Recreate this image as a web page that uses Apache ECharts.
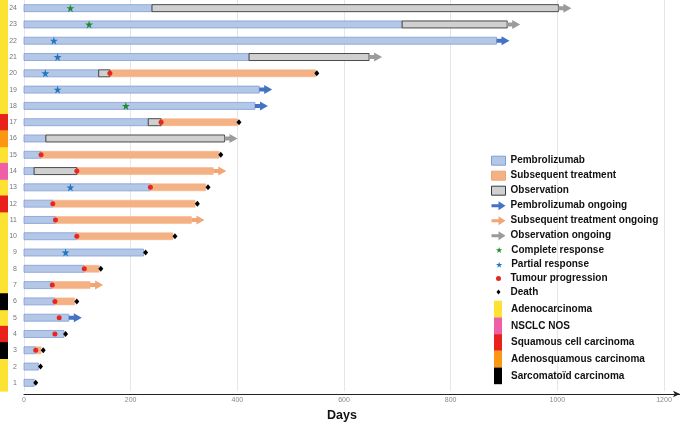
<!DOCTYPE html>
<html><head><meta charset="utf-8">
<script src="https://cdn.jsdelivr.net/npm/echarts@6/dist/echarts.min.js"></script>
<style>html,body{margin:0;padding:0;background:#fff}#c{width:680px;height:422px}</style>
</head><body><div id="c"></div>
<script>
const patients = ['1','2','3','4','5','6','7','8','9','10','11','12','13','14','15','16','17','18','19','20','21','22','23','24'];
const xTicks = [0, 200, 400, 600, 800, 1000, 1200];
// days; index 0 = patient 1
const pembroEnd = [19,27,22,75,84,58,53,113,224,99,59,54,237,19,32,41,233,433,441,140,422,886,709,240];
const obsEnd    = [null,null,null,null,null,null,null,null,null,null,null,null,null,99,null,376,257,null,null,161,647,null,906,1002];
const subsEnd   = [null,null,32,null,null,95,124,141,null,279,314,321,341,355,366,null,400,null,null,547,null,null,null,null];
const ongoingPembro = [5,18,19,22];
const ongoingSubs = [7,11,14];
const ongoingObs = [16,21,23,24];
// [patient, day]
const completeResponse = [[24,87],[23,122],[18,191]];
const partialResponse = [[22,56],[21,63],[20,40],[19,63],[13,87],[9,78]];
const progression = [[3,22],[4,58],[5,66],[6,58],[7,53],[8,113],[10,99],[11,59],[12,54],[13,237],[14,99],[15,32],[17,257],[20,161]];
const death = [[1,22],[2,31],[3,36],[4,78],[6,99],[8,144],[9,228],[10,283],[12,325],[13,345],[15,369],[17,403],[20,549]];
const histology = ['Adenocarcinoma','Adenocarcinoma','Sarcomatoïd carcinoma','Squamous cell carcinoma','Adenocarcinoma','Sarcomatoïd carcinoma','Adenocarcinoma','Adenocarcinoma','Adenocarcinoma','Adenocarcinoma','Adenocarcinoma','Squamous cell carcinoma','Adenocarcinoma','NSCLC NOS','Adenocarcinoma','Adenosquamous carcinoma','Squamous cell carcinoma','Adenocarcinoma','Adenocarcinoma','Adenocarcinoma','Adenocarcinoma','Adenocarcinoma','Adenocarcinoma','Adenocarcinoma'];
const histTypes = ['Adenocarcinoma','NSCLC NOS','Squamous cell carcinoma','Adenosquamous carcinoma','Sarcomatoïd carcinoma'];
const histColors = ['#fce232','#ee5fa8','#e8221b','#fc9712','#000000'];

const C = {
  pembro:'#b4c7e7', pembroB:'#7f9ed6',
  subs:'#f4b183', subsB:'#eea574',
  obs:'#d0d0d0', obsB:'#3a3a3a',
  arP:'#4472c4', arS:'#f2a575', arO:'#9b9b9b',
  cr:'#1f8a30', pr:'#1f78c1', prog:'#e8261e', death:'#000'
};
const STAR = 'path://M50,0L61.2,34.5L97.6,34.5L68.2,55.9L79.4,90.5L50,69.1L20.6,90.5L31.8,55.9L2.4,34.5L38.8,34.5Z';
const ARROW = 'path://M0,3L7,3L7,0L14,4.5L7,9L7,6L0,6Z';
const DIAM = 'path://M2,0L4,2.5L2,5L0,2.5Z';

const pembroData = pembroEnd.map((e,i)=>[0,e,i]);
const obsData = obsEnd.map((e,i)=> e==null?null:[pembroEnd[i],e,i]).filter(Boolean);
const subsData = subsEnd.map((e,i)=> e==null?null:[obsEnd[i]!=null?obsEnd[i]:pembroEnd[i],e,i]).filter(Boolean);
const arPData = ongoingPembro.map(p=>[pembroEnd[p-1],p-1]);
const arSData = ongoingSubs.map(p=>[subsEnd[p-1],p-1]);
const arOData = ongoingObs.map(p=>[obsEnd[p-1],p-1]);
const pt = arr => arr.map(([p,d])=>[d,p-1]);

function segRender(fill, stroke, lw){
  return function(params, api){
    const s = api.coord([api.value(0), api.value(2)]);
    const e = api.coord([api.value(1), api.value(2)]);
    const h = 7;
    return {type:'rect', shape:{x:s[0], y:s[1]-h/2, width:e[0]-s[0], height:h}, style:{fill:fill, stroke:stroke, lineWidth:lw}};
  };
}
function arrowRender(color){
  return function(params, api){
    const p = api.coord([api.value(0), api.value(1)]);
    const x = p[0], y = p[1];
    return {type:'polygon', shape:{points:[[x,y-2],[x+5,y-2],[x+5,y-4.5],[x+13,y],[x+5,y+4.5],[x+5,y+2],[x,y+2]]}, style:{fill:color}};
  };
}
function histRender(color){
  return function(params, api){
    const c = api.coord([0, api.value(1)]);
    const h = api.size([0,1])[1];
    return {type:'rect', shape:{x:0, y:c[1]-h/2, width:8, height:h+0.6}, style:{fill:color}};
  };
}

const series = [
  {name:'Pembrolizumab', type:'custom', renderItem:segRender(C.pembro,C.pembroB,0.8), encode:{x:[0,1],y:2}, data:pembroData, itemStyle:{color:C.pembro}, z:2},
  {name:'Observation', type:'custom', renderItem:segRender(C.obs,C.obsB,0.9), encode:{x:[0,1],y:2}, data:obsData, itemStyle:{color:C.obs}, z:3},
  {name:'Subsequent treatment', type:'custom', renderItem:segRender(C.subs,C.subs,0.5), encode:{x:[0,1],y:2}, data:subsData, itemStyle:{color:C.subs}, z:2},
  {name:'Pembrolizumab ongoing', type:'custom', renderItem:arrowRender(C.arP), encode:{x:0,y:1}, data:arPData, itemStyle:{color:C.arP}, z:3},
  {name:'Subsequent treatment ongoing', type:'custom', renderItem:arrowRender(C.arS), encode:{x:0,y:1}, data:arSData, itemStyle:{color:C.arS}, z:3},
  {name:'Observation ongoing', type:'custom', renderItem:arrowRender(C.arO), encode:{x:0,y:1}, data:arOData, itemStyle:{color:C.arO}, z:3},
  {name:'Complete response', type:'scatter', symbol:STAR, symbolSize:8, data:pt(completeResponse), itemStyle:{color:C.cr, opacity:1}, z:6},
  {name:'Partial response', type:'scatter', symbol:STAR, symbolSize:8, data:pt(partialResponse), itemStyle:{color:C.pr, opacity:1}, z:6},
  {name:'Tumour progression', type:'scatter', symbol:'circle', symbolSize:5, data:pt(progression), itemStyle:{color:C.prog, opacity:1}, z:6},
  {name:'Death', type:'scatter', symbol:'diamond', symbolSize:[5,6], data:pt(death), itemStyle:{color:C.death, opacity:1}, z:6}
];
histTypes.forEach((t,k)=>{
  const d = [];
  histology.forEach((h,i)=>{ if(h===t) d.push([0,i]); });
  series.push({name:t, type:'custom', renderItem:histRender(histColors[k]), encode:{x:0,y:1}, data:d, itemStyle:{color:histColors[k]}, z:1});
});

const lt = {fontSize:10, fontWeight:'bold', color:'#111', fontFamily:'Liberation Sans, Arial, sans-serif', lineHeight:12};
const option = {
  animation:false,
  backgroundColor:'#fff',
  grid:{left:24, right:0, top:0, height:391, outerBoundsMode:'none', containLabel:false},
  xAxis:{type:'value', min:0, max:1230, interval:200, offset:3,
    axisLine:{show:true, lineStyle:{color:'#222', width:1.2}, symbol:['none','arrow'], symbolSize:[5,7]},
    axisTick:{show:false},
    axisLabel:{fontSize:7, color:'#888', margin:3, showMaxLabel:false, fontFamily:'Liberation Sans, Arial, sans-serif',
      formatter:v=> xTicks.indexOf(v)>=0 ? String(v) : ''},
    splitLine:{show:true, showMaxLine:false, lineStyle:{color:'#e6e6e6', width:1}},
    name:'Days', nameLocation:'middle', nameGap:13,
    nameTextStyle:{fontSize:12.5, fontWeight:'bold', color:'#111', fontFamily:'Liberation Sans, Arial, sans-serif', padding:[0,20,0,0]}
  },
  yAxis:{type:'category', data:patients, axisLine:{show:false}, axisTick:{show:false}, splitLine:{show:false},
    axisLabel:{fontSize:7, color:'#777', margin:7, fontFamily:'Liberation Sans, Arial, sans-serif'}},
  legend:[
    {orient:'vertical', left:491, top:154.7, padding:0, itemWidth:14, itemHeight:9, itemGap:3, selectedMode:false, textStyle:lt,
      data:[
        {name:'Pembrolizumab', icon:'rect', itemStyle:{color:C.pembro, borderColor:C.pembroB, borderWidth:1}},
        {name:'Subsequent treatment', icon:'rect', itemStyle:{color:C.subs, borderColor:C.subsB, borderWidth:1}},
        {name:'Observation', icon:'rect', itemStyle:{color:C.obs, borderColor:C.obsB, borderWidth:1}},
        {name:'Pembrolizumab ongoing', icon:ARROW, itemStyle:{color:C.arP}},
        {name:'Subsequent treatment ongoing', icon:ARROW, itemStyle:{color:C.arS}},
        {name:'Observation ongoing', icon:ARROW, itemStyle:{color:C.arO}}
      ]},
    {orient:'vertical', left:496, top:244, padding:0, itemWidth:14, itemHeight:6, itemGap:2.7, selectedMode:false, textStyle:lt, symbolKeepAspect:true,
      data:[
        {name:'Complete response', icon:STAR, itemStyle:{color:C.cr}},
        {name:'Partial response', icon:STAR, itemStyle:{color:C.pr}}
      ]},
    {orient:'vertical', left:496, top:272.5, padding:0, itemWidth:14, itemHeight:5, itemGap:1.6, selectedMode:false, textStyle:lt, symbolKeepAspect:true,
      data:[
        {name:'Tumour progression', icon:'circle', itemStyle:{color:C.prog}},
        {name:'Death', icon:DIAM, itemStyle:{color:C.death}}
      ]},
    {orient:'vertical', left:494, top:300.7, padding:0, itemWidth:8, itemHeight:16.7, itemGap:0, selectedMode:false, textStyle:Object.assign({}, lt, {padding:[0,0,0,4]}),
      data: histTypes.map((t,k)=>({name:t, icon:'rect', itemStyle:{color:histColors[k]}}))}
  ],
  series:series
};
const chart = echarts.init(document.getElementById('c'), null, {renderer:'canvas'});
chart.setOption(option);
</script></body></html>
